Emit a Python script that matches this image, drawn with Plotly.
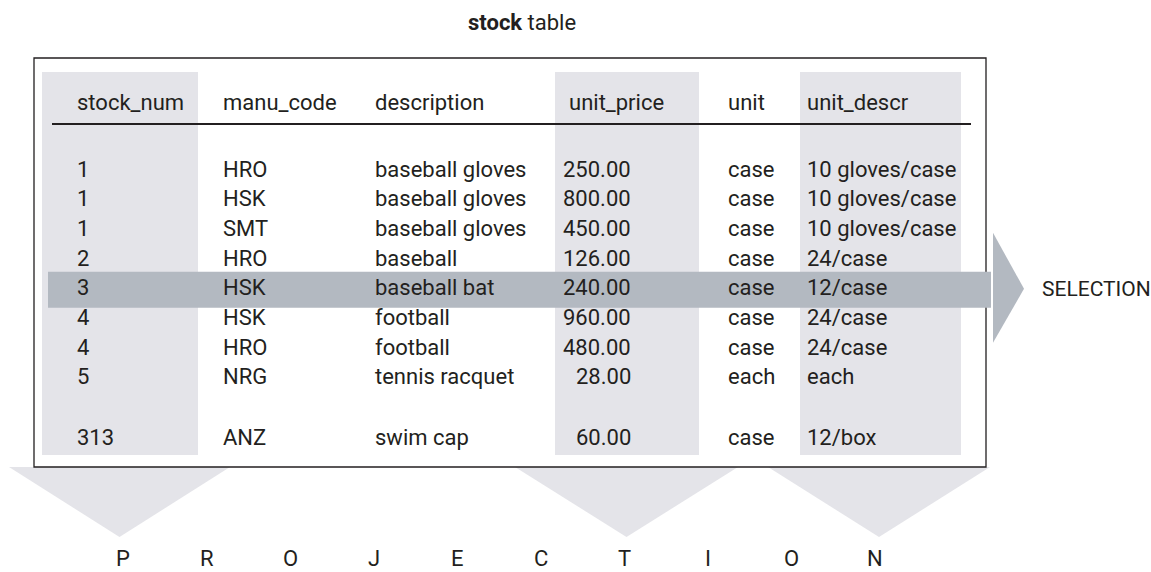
import plotly.graph_objects as go

# ---------------- data ----------------
headers = ["stock_num", "manu_code", "description", "unit_price", "unit", "unit_descr"]
stock_num = ["1", "1", "1", "2", "3", "4", "4", "5", "313"]
manu_code = ["HRO", "HSK", "SMT", "HRO", "HSK", "HSK", "HRO", "NRG", "ANZ"]
description = ["baseball gloves", "baseball gloves", "baseball gloves", "baseball",
               "baseball bat", "football", "football", "tennis racquet", "swim cap"]
unit_price = ["250.00", "800.00", "450.00", "126.00", "240.00", "960.00", "480.00", "28.00", "60.00"]
unit = ["case", "case", "case", "case", "case", "case", "case", "each", "case"]
unit_descr = ["10 gloves/case", "10 gloves/case", "10 gloves/case", "24/case", "12/case",
              "24/case", "24/case", "each", "12/box"]
selected_row = 4
projected_cols = ["stock_num", "unit_price", "unit_descr"]
projection_word = list("PROJECTION")
selection_word = "SELECTION"
title_bold = "stock"
title_rest = " table"

# ---------------- layout constants ----------------
W, H = 1151, 572
FONT = "Roboto, Liberation Sans, sans-serif"
FS = 22
TXT = "#231f20"
LIGHT = "#e4e4e9"
BAND = "#b3b9c1"

col_x = {"stock_num": 75, "manu_code": 221, "description": 373,
         "unit_price": 567, "unit": 726, "unit_descr": 805}
price_right = 633
shade_x = {"stock_num": (42, 198), "unit_price": (555, 699), "unit_descr": (800, 961)}
header_y = 102
row_y0, row_step, last_gap = 169, 29.7, 31


def row_y(i):
    y = row_y0 + row_step * i
    if i == len(stock_num) - 1:
        y += last_gap
    return y


fig = go.Figure()
shapes = []
annotations = []

# projection triangles (behind the box)
proj_tri = {"stock_num": (9, 230), "unit_price": (515, 738), "unit_descr": (768, 990)}
for c in projected_cols:
    x0, x1 = proj_tri[c]
    xm = (x0 + x1) / 2
    shapes.append(dict(type="path", path=f"M {x0},467 L {x1},467 L {xm},537 Z",
                       fillcolor=LIGHT, line=dict(width=0)))

# table box
shapes.append(dict(type="rect", x0=34, x1=986, y0=58, y1=467,
                   fillcolor="white", line=dict(color="#231f20", width=1.3)))

# shaded projected columns
for c in projected_cols:
    x0, x1 = shade_x[c]
    shapes.append(dict(type="rect", x0=x0, x1=x1, y0=72, y1=455,
                       fillcolor=LIGHT, line=dict(width=0)))

# header rule
shapes.append(dict(type="line", x0=52, x1=971, y0=124, y1=124,
                   line=dict(color="#231f20", width=2)))

# selection band + arrow
sy = row_y(selected_row)
shapes.append(dict(type="rect", x0=48, x1=991, y0=sy - 16, y1=sy + 20,
                   fillcolor=BAND, line=dict(width=0)))
shapes.append(dict(type="path", path=f"M 993,{sy-55} L 993,{sy+55} L 1024,{sy+1} Z",
                   fillcolor=BAND, line=dict(width=0)))

font = dict(family=FONT, size=FS, color=TXT)

# headers
for h in headers:
    annotations.append(dict(x=col_x[h], y=header_y, text=h, xanchor="left",
                            yanchor="middle", showarrow=False, font=font))

# rows
columns = {"stock_num": stock_num, "manu_code": manu_code, "description": description,
           "unit_price": unit_price, "unit": unit, "unit_descr": unit_descr}
for c, vals in columns.items():
    for i, v in enumerate(vals):
        if c == "unit_price":
            annotations.append(dict(x=price_right, y=row_y(i), text=v, xanchor="right",
                                    yanchor="middle", showarrow=False, font=font))
        else:
            annotations.append(dict(x=col_x[c], y=row_y(i), text=v, xanchor="left",
                                    yanchor="middle", showarrow=False, font=font))

# title
annotations.append(dict(x=522, y=22, text=f"<b>{title_bold}</b>{title_rest}",
                        xanchor="center", yanchor="middle", showarrow=False, font=font))

# selection label
annotations.append(dict(x=1040, y=sy + 1, text=selection_word, xanchor="left",
                        yanchor="middle", showarrow=False,
                        font=dict(family=FONT, size=21, color=TXT)))

# projection letters
px0, pstep = 123, 83.6
for k, ch in enumerate(projection_word):
    annotations.append(dict(x=px0 + pstep * k, y=558, text=ch, xanchor="center",
                            yanchor="middle", showarrow=False, font=font))

fig.update_layout(
    width=W, height=H, margin=dict(l=0, r=0, t=0, b=0),
    paper_bgcolor="white", plot_bgcolor="white",
    xaxis=dict(range=[0, W], visible=False, fixedrange=True),
    yaxis=dict(range=[H, 0], visible=False, fixedrange=True),
    shapes=shapes, annotations=annotations, showlegend=False,
)

fig.write_html("out.html", config={"displayModeBar": False},
               post_script="document.body.style.margin='0px';document.body.style.overflow='hidden';")
